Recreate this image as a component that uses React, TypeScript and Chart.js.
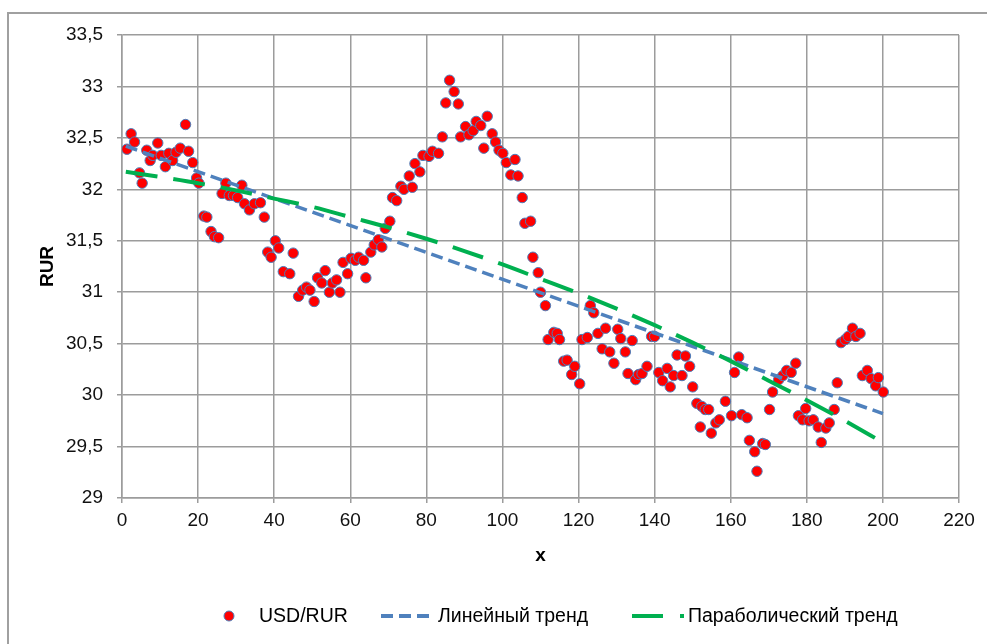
import React, { useEffect, useRef } from 'react';
import { Chart, registerables } from 'chart.js';

Chart.register(...registerables);

const FONT = "'Liberation Sans Narrow', 'Liberation Sans', Arial, sans-serif";

// USD/RUR observations: [x, rate]
const usdRurPoints: [number, number][] = [
  [1.3, 32.39], [2.4, 32.54], [3.3, 32.46], [4.6, 32.16], [5.3, 32.06], [6.5, 32.38], [7.4, 32.28], [8.1, 32.33],
  [9.4, 32.45], [10.3, 32.33], [11.4, 32.22], [12.3, 32.35], [13.3, 32.28], [14.2, 32.36], [15.3, 32.4], [16.7, 32.63],
  [17.5, 32.37], [18.6, 32.26], [19.6, 32.11], [20.2, 32.06], [21.5, 31.74], [22.3, 31.73], [23.4, 31.59], [24.3, 31.54],
  [25.4, 31.53], [26.3, 31.96], [27.3, 32.06], [28.2, 31.94], [29.3, 31.94], [30.4, 31.92], [31.5, 32.04], [32.2, 31.86],
  [33.5, 31.8], [34.8, 31.86], [36.4, 31.87], [37.4, 31.73], [38.3, 31.39], [39.2, 31.34], [40.3, 31.5], [41.2, 31.43],
  [42.4, 31.2], [44.1, 31.18], [45.0, 31.38], [46.4, 30.96], [47.5, 31.02], [48.5, 31.05], [49.4, 31.02], [50.5, 30.91],
  [51.4, 31.14], [52.5, 31.09], [53.4, 31.21], [54.5, 31.0], [55.3, 31.09], [56.4, 31.12], [57.3, 31.0], [58.1, 31.29],
  [59.3, 31.18], [60.2, 31.33], [61.3, 31.31], [62.2, 31.34], [63.5, 31.31], [64.1, 31.14], [65.4, 31.39], [66.3, 31.46],
  [67.4, 31.51], [68.3, 31.44], [69.2, 31.62], [70.4, 31.69], [71.1, 31.92], [72.2, 31.89], [73.3, 32.03], [74.1, 32.0],
  [75.5, 32.13], [76.3, 32.02], [77.0, 32.25], [78.3, 32.17], [79.1, 32.33], [80.7, 32.32], [81.6, 32.37], [83.2, 32.35],
  [84.2, 32.51], [85.1, 32.84], [86.1, 33.06], [87.3, 32.95], [88.4, 32.83], [89.0, 32.51], [90.3, 32.61], [91.2, 32.53],
  [92.3, 32.57], [93.1, 32.66], [94.3, 32.62], [95.1, 32.4], [96.0, 32.71], [97.3, 32.54], [98.2, 32.46], [99.1, 32.38],
  [100.1, 32.35], [101.0, 32.26], [102.2, 32.14], [103.3, 32.29], [104.1, 32.13], [105.2, 31.92], [105.9, 31.67], [107.4, 31.69],
  [108.0, 31.34], [109.4, 31.19], [110.0, 31.0], [111.3, 30.87], [112.0, 30.54], [113.5, 30.61], [114.4, 30.6], [115.0, 30.54],
  [116.1, 30.33], [117.0, 30.34], [118.2, 30.2], [119.0, 30.28], [120.3, 30.11], [120.9, 30.54], [122.3, 30.56], [123.1, 30.87],
  [124.0, 30.8], [125.1, 30.6], [126.2, 30.45], [127.1, 30.65], [128.2, 30.42], [129.3, 30.31], [130.3, 30.64], [131.1, 30.55],
  [132.3, 30.42], [133.0, 30.21], [134.1, 30.53], [135.0, 30.15], [135.8, 30.2], [136.7, 30.21], [138.0, 30.28], [139.2, 30.57],
  [140.0, 30.57], [141.1, 30.22], [142.1, 30.14], [143.3, 30.26], [144.1, 30.08], [145.0, 30.19], [145.9, 30.39], [147.2, 30.19],
  [148.1, 30.38], [149.2, 30.28], [150.0, 30.08], [151.1, 29.92], [152.0, 29.69], [152.4, 29.89], [153.3, 29.86], [154.2, 29.86],
  [154.9, 29.63], [156.1, 29.73], [157.0, 29.76], [158.6, 29.94], [160.2, 29.8], [161.0, 30.22], [162.1, 30.37], [162.9, 29.81],
  [164.3, 29.78], [164.9, 29.56], [166.3, 29.45], [166.9, 29.26], [168.4, 29.53], [169.1, 29.52], [170.2, 29.86], [171.0, 30.03],
  [172.6, 30.15], [173.7, 30.19], [174.7, 30.24], [175.9, 30.22], [177.1, 30.31], [177.8, 29.8], [178.9, 29.76], [179.7, 29.87],
  [180.6, 29.75], [181.7, 29.76], [183.0, 29.69], [183.8, 29.54], [185.0, 29.68], [185.9, 29.73], [187.2, 29.86], [188.0, 30.12],
  [189.0, 30.51], [190.1, 30.54], [190.9, 30.57], [192.0, 30.65], [192.9, 30.57], [194.0, 30.6], [194.6, 30.19], [195.9, 30.24],
  [196.9, 30.16], [198.1, 30.09], [198.8, 30.17], [200.1, 30.03],
];

// Linear trend (read at its ends)
const linearTrendX = [1, 200];
const linearTrendY = [32.42, 29.82];

// Parabolic trend
const paraTrendX = [1, 10, 20, 30, 40, 50, 60, 70, 80, 90, 100, 110, 120, 130, 140, 150, 160, 170, 180, 190, 200];
const paraTrendY = [32.17, 32.12, 32.06, 31.99, 31.91, 31.83, 31.73, 31.63, 31.52, 31.4, 31.27, 31.13, 30.99, 30.84, 30.68, 30.51, 30.33, 30.14, 29.95, 29.75, 29.54];

const seriesNames = ['USD/RUR', 'Линейный тренд', 'Параболический тренд'];
const yAxisTitle = 'RUR';
const xAxisTitle = 'x';
const yMin = 29, yMax = 33.5, yStep = 0.5;
const xMin = 0, xMax = 220, xStep = 20;

const RED = '#FF0000';
const MARKER_BORDER = '#4A7EBB';
const BLUE = '#4F81BD';
const GREEN = '#00B050';
const GRID = '#9c9c9c';

const legendPlugin = {
  id: 'excelLegend',
  afterDraw(chart: any) {
    const ctx = chart.ctx as CanvasRenderingContext2D;
    const y = 616;
    ctx.save();
    ctx.font = `19.5px ${FONT}`;
    ctx.textBaseline = 'middle';
    ctx.textAlign = 'left';
    // marker item
    ctx.beginPath();
    ctx.arc(229, y, 5, 0, Math.PI * 2);
    ctx.fillStyle = RED;
    ctx.fill();
    ctx.lineWidth = 1;
    ctx.strokeStyle = MARKER_BORDER;
    ctx.stroke();
    ctx.fillStyle = '#000';
    ctx.fillText(seriesNames[0], 259, y + 1);
    // linear
    ctx.beginPath();
    ctx.setLineDash([12, 6]);
    ctx.lineWidth = 4;
    ctx.strokeStyle = BLUE;
    ctx.moveTo(381, y);
    ctx.lineTo(429, y);
    ctx.stroke();
    ctx.fillStyle = '#000';
    ctx.fillText(seriesNames[1], 438, y + 1);
    // parabolic
    ctx.beginPath();
    ctx.setLineDash([31, 17, 4, 100]);
    ctx.strokeStyle = GREEN;
    ctx.moveTo(632, y);
    ctx.lineTo(686, y);
    ctx.stroke();
    ctx.setLineDash([]);
    ctx.fillStyle = '#000';
    ctx.fillText(seriesNames[2], 688, y + 1);
    ctx.restore();
  },
};

export default function App() {
  const ref = useRef<HTMLCanvasElement | null>(null);
  useEffect(() => {
    if (!ref.current) return;
    const chart = new Chart(ref.current, {
      type: 'scatter',
      data: {
        datasets: [
          {
            label: seriesNames[0],
            data: usdRurPoints.map(([x, y]) => ({ x, y })),
            showLine: false,
            pointRadius: 5.2,
            pointBorderWidth: 1,
            pointBackgroundColor: RED,
            pointBorderColor: MARKER_BORDER,
            order: 3,
          },
          {
            label: seriesNames[1],
            data: linearTrendX.map((x, i) => ({ x, y: linearTrendY[i] })),
            showLine: true,
            pointRadius: 0,
            borderColor: BLUE,
            borderWidth: 3.5,
            borderDash: [12, 6],
            order: 2,
          },
          {
            label: seriesNames[2],
            data: paraTrendX.map((x, i) => ({ x, y: paraTrendY[i] })),
            showLine: true,
            pointRadius: 0,
            borderColor: GREEN,
            borderWidth: 4,
            borderDash: [32, 16],
            cubicInterpolationMode: 'monotone',
            order: 1,
          },
        ],
      } as any,
      options: {
        animation: false,
        responsive: false,
        layout: { padding: { left: 0, top: 35, right: 28, bottom: 71 } },
        plugins: { legend: { display: false }, tooltip: { enabled: false } },
        scales: {
          x: {
            type: 'linear',
            min: xMin,
            max: xMax,
            afterFit: (s: any) => { s.height = 75; },
            ticks: {
              stepSize: xStep,
              padding: 6,
              color: '#111',
              font: { family: FONT, size: 19 },
              maxRotation: 0,
            },
            grid: { color: GRID, lineWidth: 1.5, tickLength: 5, tickColor: GRID },
            border: { color: GRID, width: 1.5 },
            title: {
              display: true,
              text: xAxisTitle,
              color: '#000',
              font: { family: FONT, size: 19, weight: 'bold' },
              padding: { top: 0, bottom: 6 },
            },
          },
          y: {
            type: 'linear',
            min: yMin,
            max: yMax,
            afterFit: (s: any) => { s.width = 122; },
            ticks: {
              stepSize: yStep,
              padding: 14,
              color: '#111',
              font: { family: FONT, size: 19 },
              callback: (v: any) => String(v).replace('.', ','),
            },
            grid: { color: GRID, lineWidth: 1.5, tickLength: 5, tickColor: GRID },
            border: { color: GRID, width: 1.5 },
            title: {
              display: true,
              text: yAxisTitle,
              color: '#000',
              font: { family: FONT, size: 19, weight: 'bold' },
              padding: { top: 36, bottom: 0 },
            },
          },
        },
      } as any,
      plugins: [legendPlugin],
    });
    return () => chart.destroy();
  }, []);

  return (
    <div style={{ position: 'fixed', left: 0, top: 0, width: 987, height: 644, overflow: 'hidden', background: '#fff' }}>
      <div
        style={{
          position: 'absolute', left: 7, top: 12, width: 1000, height: 700,
          border: '2px solid #a0a0a0', boxSizing: 'border-box',
        }}
      />
      <canvas ref={ref} width={987} height={644} style={{ position: 'absolute', left: 0, top: 0, width: 987, height: 644 }} />
    </div>
  );
}
